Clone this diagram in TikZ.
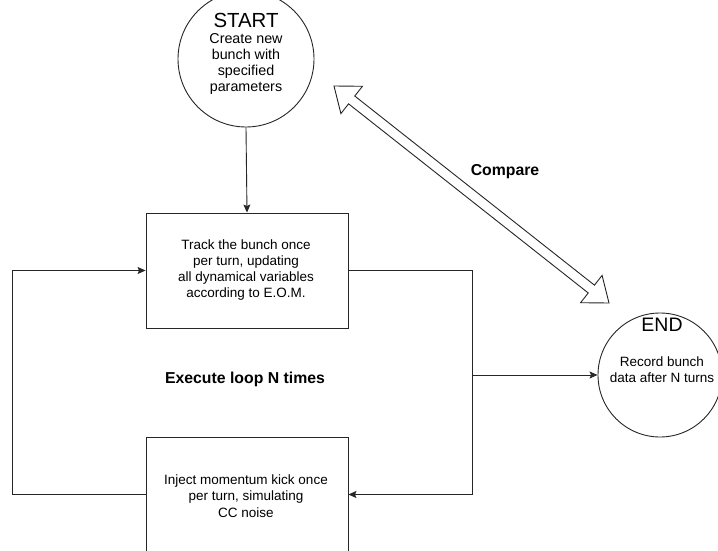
\documentclass[tikz,border=0pt]{standalone}
\usepackage{fontspec}
\setmainfont{Liberation Sans}
\usetikzlibrary{arrows.meta,calc}
\tikzset{
  ln/.style={draw=black!85, line width=0.9pt},
  arr/.style={ln, -{Stealth[length=8pt,width=7pt,inset=1.5pt]}},
  boxnode/.style={ln, rectangle, minimum width=202pt, minimum height=115pt, inner sep=0pt},
  circnode/.style={ln, circle, inner sep=0pt},
  txt/.style={align=center, inner sep=0pt, font=\fontsize{13.5}{16.3}\selectfont},
  ttl/.style={inner sep=0pt, font=\fontsize{20.4}{24}\selectfont},
  lbl/.style={inner sep=0pt, font=\bfseries\fontsize{15.8}{19}\selectfont},
}
\begin{document}
\begin{tikzpicture}[x=1pt,y=-1pt]
\useasboundingbox (0,0) rectangle (718,551);
\fill[white] (0,0) rectangle (718,551);
% nodes
\node[circnode, minimum size=136pt] (start) at (246,59) {};
\node[ttl] (starttitle) at (246,20) {START};
\node[txt, font=\fontsize{14.3}{16}\selectfont] (starttext) at (246,64) {Create new\\bunch with\\specified\\parameters};
\node[boxnode] (track) at (247,270.5) {};
\node[txt] (tracktext) at (246,270) {Track the bunch once\\per turn, updating\\all dynamical variables\\according to E.O.M.};
\node[boxnode] (inject) at (247,494.5) {};
\node[txt] (injecttext) at (246,496) {Inject momentum kick once\\per turn, simulating\\CC noise};
\node[circnode, minimum size=124pt] (end) at (660,375) {};
\node[ttl, font=\fontsize{19.5}{23}\selectfont] (endtitle) at (662,325) {END};
\node[txt] (endtext) at (662,370) {Record bunch\\data after N turns};
\node[lbl] (loop) at (245,379) {Execute loop N times};
\node[lbl] (cmp) at (505,172) {Compare};
% connectors
\draw[arr] (start.south) -- (track.north);
\coordinate (lb) at (12,494.5);
\coordinate (lt) at (12,270.5);
\draw[arr] (inject.west) -- (lb) -- (lt) -- (track.west);
\coordinate (rt) at (472,270.5);
\coordinate (rb) at (472,494.5);
\coordinate (br) at (472,375);
\draw[arr] (track.east) -- (rt) -- (rb) -- (inject.east);
\draw[arr] (br) -- (end.west);
% compare double arrow
\coordinate (ca) at (334,86);
\coordinate (cb) at (609,303);
\draw[ln, fill=white, line join=miter]
  (ca) -- ($(ca)!28.44pt!37.7:(cb)$) -- ($(ca)!23.05pt!12.5:(cb)$)
  -- ($(cb)!23.05pt!-12.5:(ca)$) -- ($(cb)!28.44pt!-37.7:(ca)$)
  -- (cb) -- ($(cb)!28.44pt!37.7:(ca)$) -- ($(cb)!23.05pt!12.5:(ca)$)
  -- ($(ca)!23.05pt!-12.5:(cb)$) -- ($(ca)!28.44pt!-37.7:(cb)$) -- cycle;
\end{tikzpicture}
\end{document}
